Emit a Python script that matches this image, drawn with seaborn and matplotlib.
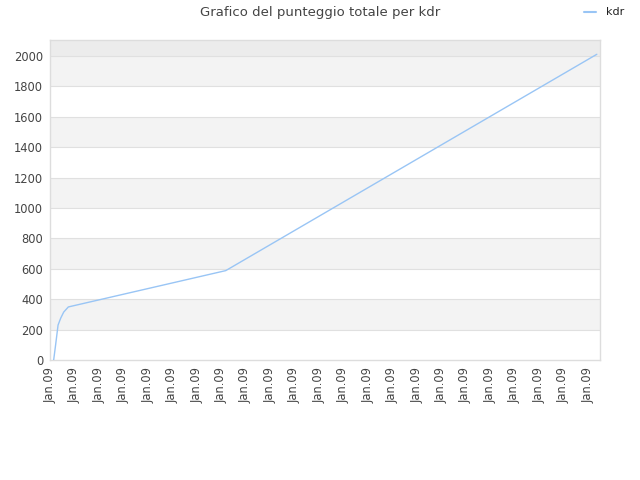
import numpy as np
import matplotlib
matplotlib.use("Agg")
import matplotlib.pyplot as plt
import pandas as pd
import seaborn as sns

# positions along the date axis (one unit per tick) and total score
x_pos = [0.15, 0.23, 0.33, 0.44, 0.56, 0.75, 7.19, 22.37]
score = [0, 100, 230, 276, 315, 349, 588, 2011]
tick_labels = ["Jan.09"] * 23
y_ticks = [0, 200, 400, 600, 800, 1000, 1200, 1400, 1600, 1800, 2000]

df = pd.DataFrame({"pos": x_pos, "score": score, "serie": "kdr"})

sns.set_style("white")
plt.rcParams['font.family'] = ['DejaVu Sans']

fig = plt.figure(figsize=(6.4, 4.8), dpi=100)
ax = fig.add_axes([50 / 640, 120 / 480, 550 / 640, 320 / 480])

# alternating horizontal bands
for i, lo in enumerate(y_ticks[:-1]):
    if i % 2 == 1:
        ax.axhspan(lo, lo + 200, color="#f3f3f3", zorder=0, lw=0)
ax.axhspan(2000, 2105, color="#ececec", zorder=0, lw=0)
for v in y_ticks[1:]:
    ax.axhline(v, color="#e0e0e0", lw=0.8, zorder=1)

sns.lineplot(data=df, x="pos", y="score", ax=ax, color="#99c5f5", lw=1,
             legend=False, zorder=3)

ax.set_xlim(0, 22.5)
ax.set_ylim(0, 2105)
ax.set_xticks(range(23))
ax.set_xticklabels(tick_labels, rotation=90, fontsize=8.3, color="#444444")
ax.set_yticks(y_ticks)
ax.set_yticklabels([str(v) for v in y_ticks], fontsize=8.3, color="#444444")
ax.tick_params(length=0, pad=5)
ax.set_xlabel("")
ax.set_ylabel("")
for s in ax.spines.values():
    s.set_color("#dddddd")
    s.set_linewidth(1)

fig.text(0.5, 0.974, "Grafico del punteggio totale per kdr", ha="center",
         va="center", fontsize=9.5, color="#444444")
fig.lines.append(plt.Line2D([584 / 640, 596 / 640], [468 / 480, 468 / 480],
                            color="#99c5f5", lw=1.5, transform=fig.transFigure))
fig.text(606 / 640, 468 / 480, "kdr", ha="left", va="center", fontsize=8,
         color="#222222")

fig.savefig("out.png", dpi=100)
